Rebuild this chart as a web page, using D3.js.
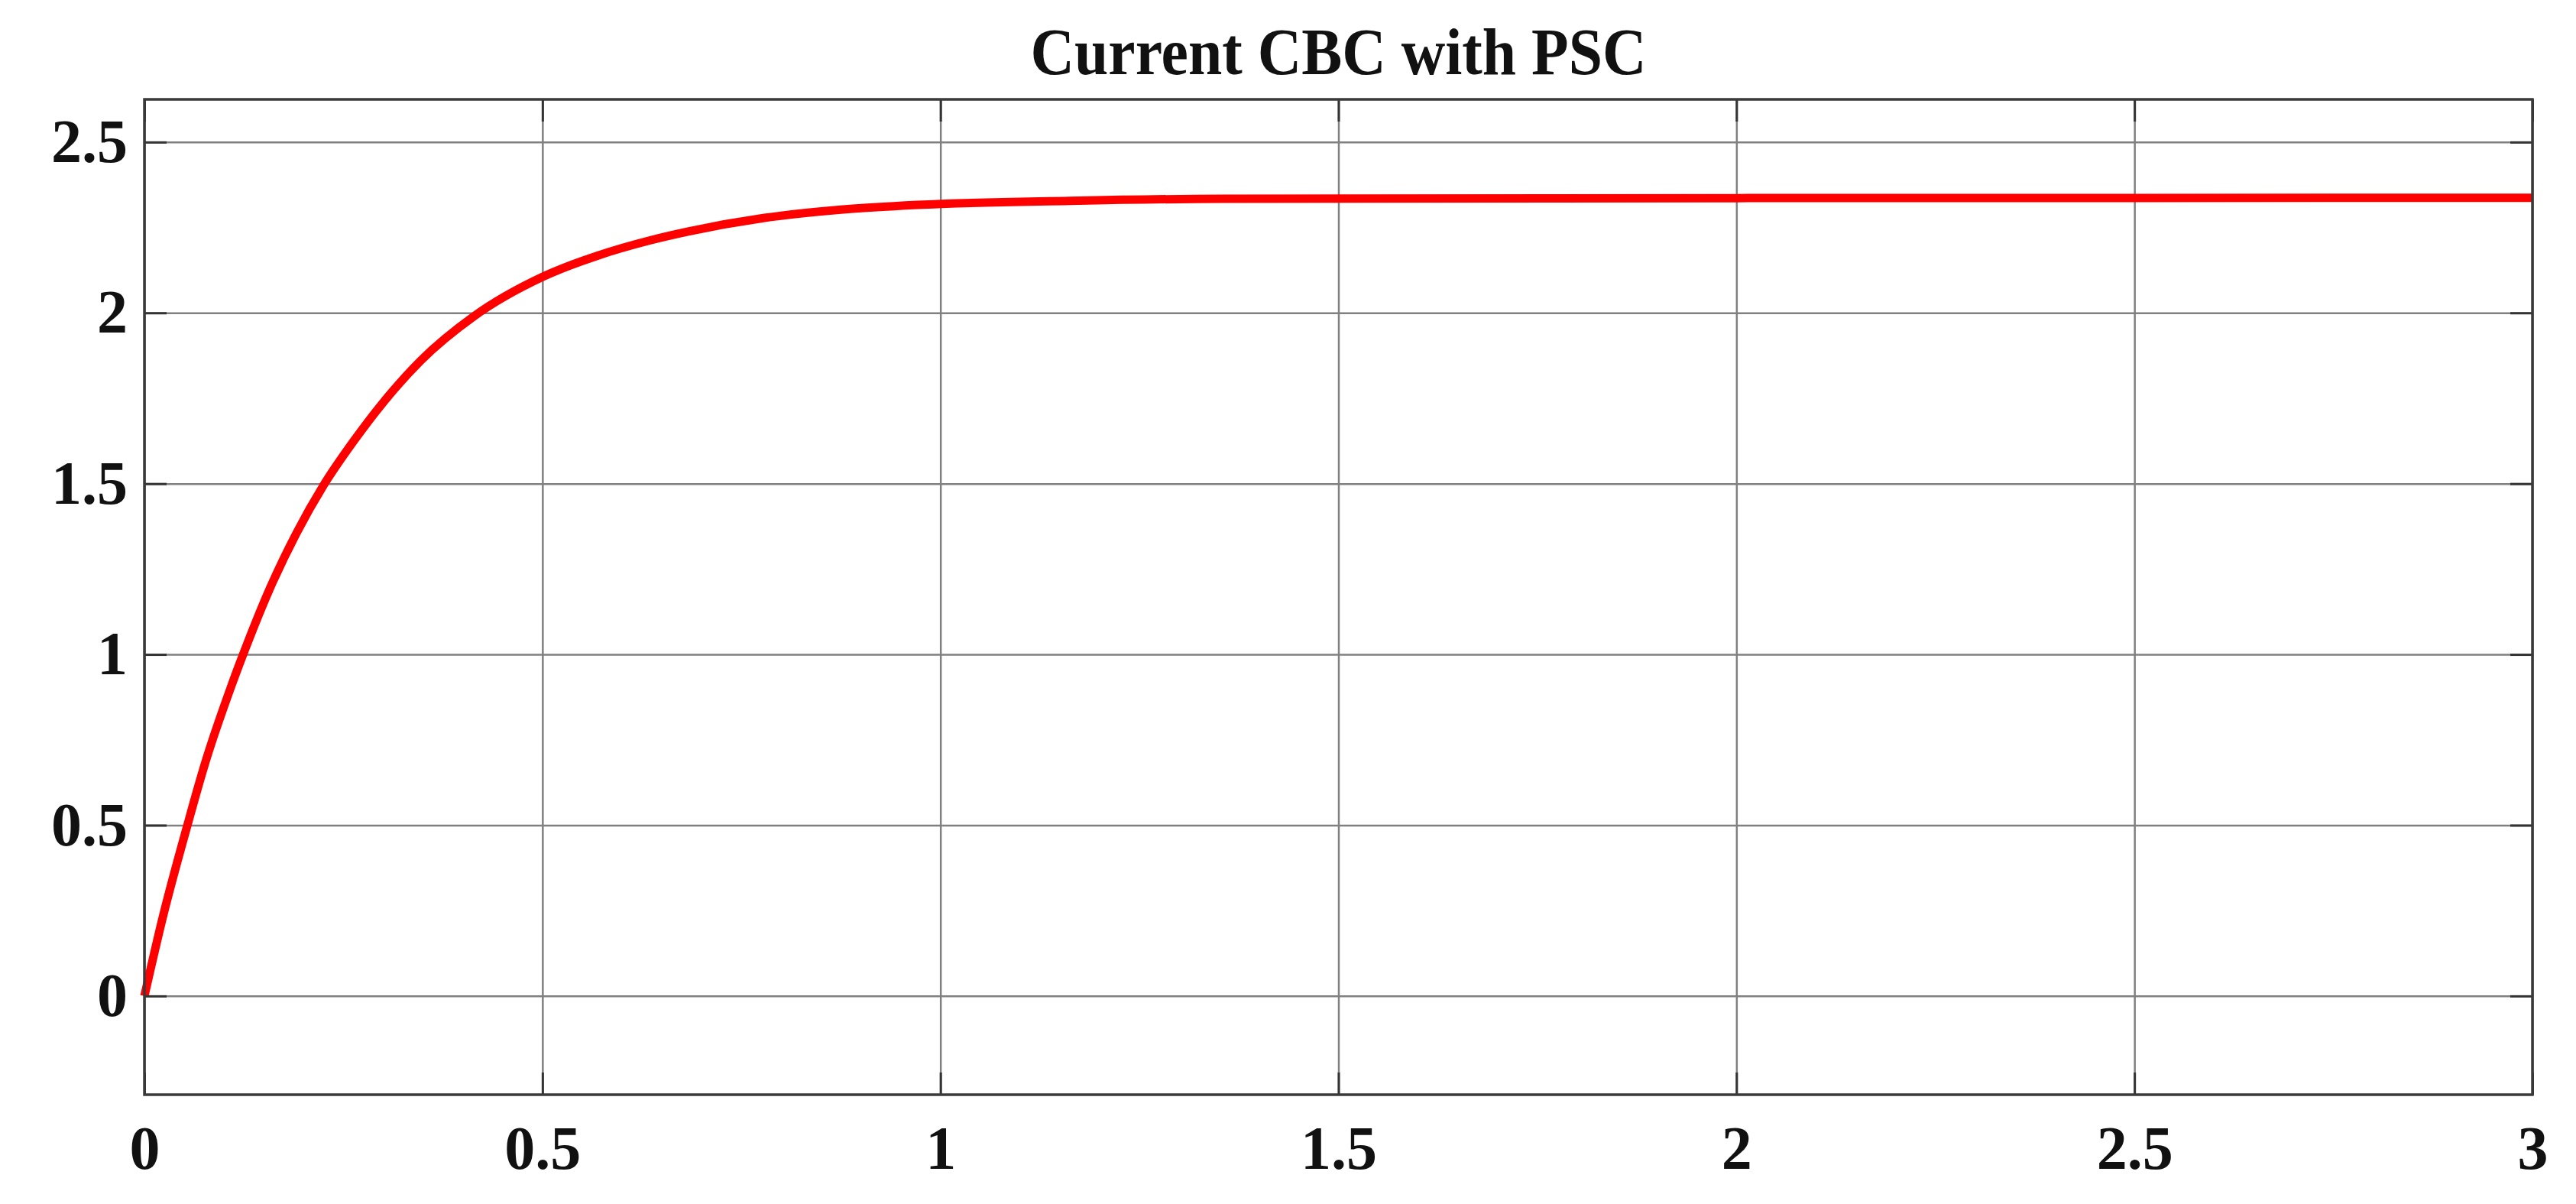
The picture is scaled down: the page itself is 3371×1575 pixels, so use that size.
<!DOCTYPE html>
<html>
<head>
<meta charset="utf-8">
<script src="https://cdn.jsdelivr.net/npm/d3@7"></script>
<style>
  html, body { margin: 0; padding: 0; background: #fff; }
  svg text { font-family: "Liberation Serif", "Times New Roman", serif; font-weight: bold; fill: #111; }
</style>
</head>
<body>
<svg id="chart" width="3371" height="1575"></svg>
<script>
  //  1] Data ----------------------------------------//

  const title = "Current CBC with PSC";

  // time (s)
  const timeValues = [0, 0.023, 0.054, 0.076, 0.108, 0.124, 0.157, 0.191, 0.225, 0.263, 0.299,
                      0.347, 0.414, 0.5, 0.57, 0.635, 0.683, 0.779, 0.875, 0.971, 1.163, 1.355, 2.0, 3.0];
  // current
  const currentValues = [0, 0.23, 0.5, 0.68, 0.9, 1.0, 1.19, 1.355, 1.495, 1.625, 1.735,
                         1.86, 1.99, 2.105, 2.168, 2.212, 2.238, 2.278, 2.302, 2.316, 2.328, 2.334, 2.336, 2.337];

  const xTicks = [0, 0.5, 1, 1.5, 2, 2.5, 3];
  const yTicks = [0, 0.5, 1, 1.5, 2, 2.5];
  const xTickLabels = ["0", "0.5", "1", "1.5", "2", "2.5", "3"];
  const yTickLabels = ["0", "0.5", "1", "1.5", "2", "2.5"];

  const series = timeValues.map((t, i) => ({ t: t, v: currentValues[i] }));

  //  2] Layout ---------------------------------------//
  const plotLeft = 189, plotRight = 3314, plotTop = 130, plotBottom = 1432;
  const w = plotRight - plotLeft, h = plotBottom - plotTop;
  const tickLen = 29;

  const svg = d3.select("#chart");
  const g = svg.append("g").attr("transform", `translate(${plotLeft},${plotTop})`);

  //  3] Scales ---------------------------------------//
  const xScale = d3.scaleLinear().domain([0, 3]).range([0, w]);
  const yScale = d3.scaleLinear().domain([-0.289, 2.625]).range([h, 0]);

  //  4] Grid -----------------------------------------//
  g.append("g")
    .attr("class", "grid")
    .attr("transform", `translate(0,${h})`)
    .call(d3.axisBottom(xScale).tickValues(xTicks).tickSize(-h).tickFormat(""))
    .call(s => s.select(".domain").remove())
    .selectAll("line").attr("stroke", "#808080").attr("stroke-width", 2.5);

  g.append("g")
    .attr("class", "grid")
    .call(d3.axisLeft(yScale).tickValues(yTicks).tickSize(-w).tickFormat(""))
    .call(s => s.select(".domain").remove())
    .selectAll("line").attr("stroke", "#808080").attr("stroke-width", 2.5);

  //  5] Line -----------------------------------------//
  const line = d3.line()
    .x(d => xScale(d.t))
    .y(d => yScale(d.v))
    .curve(d3.curveMonotoneX);

  g.append("path")
    .datum(series)
    .attr("d", line)
    .attr("fill", "none")
    .attr("stroke", "#ff0000")
    .attr("stroke-width", 11)
    .attr("stroke-linejoin", "round");

  //  6] Axes with inward ticks ------------------------//
  const styleAxis = s => {
    s.select(".domain").remove();
    s.selectAll(".tick line").attr("stroke", "#333").attr("stroke-width", 3);
    s.selectAll(".tick text").attr("font-size", 80).attr("fill", "#111");
  };

  g.append("g")
    .attr("transform", `translate(0,${h})`)
    .call(d3.axisBottom(xScale).tickValues(xTicks).tickSizeInner(-tickLen).tickSizeOuter(0)
      .tickPadding(40).tickFormat((d, i) => xTickLabels[i]))
    .call(styleAxis);

  g.append("g")
    .call(d3.axisTop(xScale).tickValues(xTicks).tickSizeInner(-tickLen).tickSizeOuter(0).tickFormat(""))
    .call(styleAxis);

  g.append("g")
    .call(d3.axisLeft(yScale).tickValues(yTicks).tickSizeInner(-tickLen).tickSizeOuter(0)
      .tickPadding(22).tickFormat((d, i) => yTickLabels[i]))
    .call(styleAxis);

  g.append("g")
    .attr("transform", `translate(${w},0)`)
    .call(d3.axisRight(yScale).tickValues(yTicks).tickSizeInner(-tickLen).tickSizeOuter(0).tickFormat(""))
    .call(styleAxis);

  // the box
  g.append("rect")
    .attr("width", w).attr("height", h)
    .attr("fill", "none")
    .attr("stroke", "#3a3a3a")
    .attr("stroke-width", 3.5);

  //  7] Title ----------------------------------------//
  svg.append("text")
    .attr("x", plotLeft + w / 2)
    .attr("y", 97)
    .attr("text-anchor", "middle")
    .attr("font-size", 86)
    .attr("textLength", 806)
    .attr("lengthAdjust", "spacingAndGlyphs")
    .text(title);
</script>
</body>
</html>
